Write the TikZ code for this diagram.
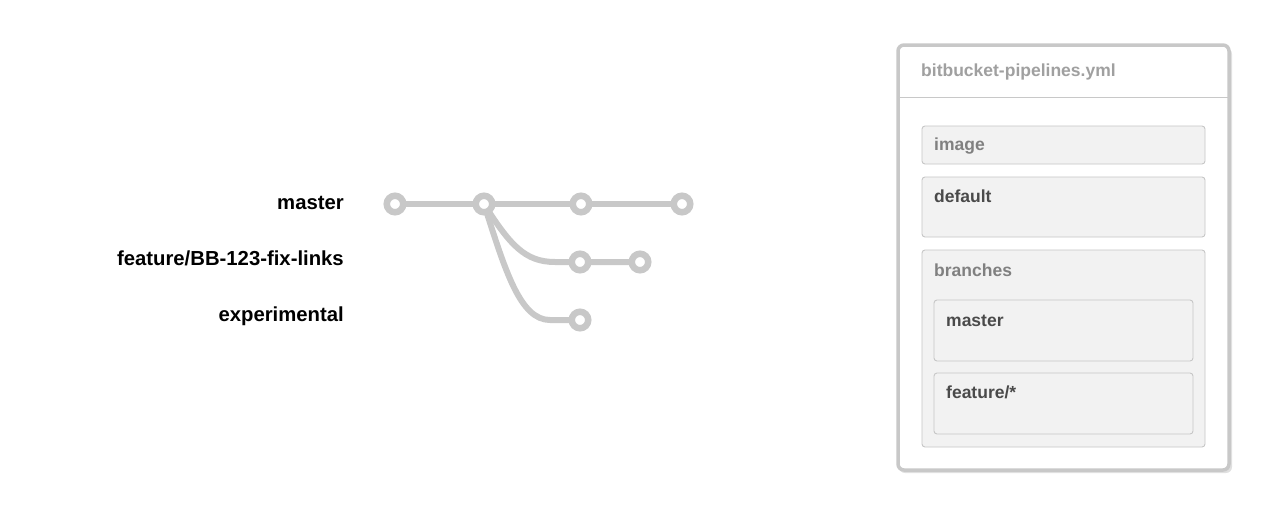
\documentclass[tikz,border=0pt]{standalone}
\usepackage{fontspec}
\setmainfont{Liberation Sans}
\definecolor{gline}{HTML}{C8C8C8}
\definecolor{boxfill}{HTML}{F2F2F2}
\definecolor{boxline}{HTML}{C6C6C6}
\definecolor{ttl}{HTML}{A0A0A0}
\definecolor{lbl}{HTML}{808080}
\definecolor{dark}{HTML}{4A4A4A}
\begin{document}
\begin{tikzpicture}[x=1pt,y=-1pt,
  commit/.style={circle,draw=gline,line width=6.5pt,fill=white,minimum size=16.5pt,inner sep=0pt},
  branch/.style={draw=gline,line width=6pt},
  brlabel/.style={anchor=east,font=\fontsize{20.3}{24}\selectfont\bfseries,text=black,inner sep=0pt},
  inbox/.style={draw=boxline,fill=boxfill,line width=0.9pt,rounded corners=3pt},
  boxtxt/.style={anchor=west,inner sep=0pt,font=\fontsize{17.5}{21}\selectfont\bfseries}]
\useasboundingbox (0,0) rectangle (1280,523);
% labels
\node[brlabel] (lmaster) at (344,203) {master};
\node[brlabel] (lfeat) at (344,258) {feature/BB-123-fix-links};
\node[brlabel] (lexp) at (344,316) {experimental};
% commit coordinates
\coordinate (m1) at (395,204);
\coordinate (m2) at (484,204);
\coordinate (m3) at (581,204);
\coordinate (m4) at (682,204);
\coordinate (f1) at (580,262);
\coordinate (f2) at (640,262);
\coordinate (e1) at (580,320);
% branches
\draw[branch] (m1) -- (m4);
\draw[branch] (m2) .. controls (510,245) and (525,262) .. (555,262) -- (f2);
\draw[branch] (m2) .. controls (505,270) and (520,320) .. (550,320) -- (e1);
% commits
\foreach \c in {m1,m2,m3,m4,f1,f2,e1}{
  \node[commit] (n\c) at (\c) {};
}
% right panel
\fill[black!12,rounded corners=6pt] (899,48) rectangle (1232,473);
\node[draw=gline,fill=white,line width=3.5pt,rounded corners=6pt,minimum width=331pt,minimum height=425pt,inner sep=0pt] (panel) at (1063.5,257.5) {};
\draw[gline,line width=1pt] (899,97) -- (1228,97);
\node[boxtxt,text=ttl] (title) at (921,72) {bitbucket-pipelines.yml};
\draw[inbox] (922,126) rectangle (1205,164);
\node[boxtxt,text=lbl] (img) at (934,146) {image};
\draw[inbox] (922,177) rectangle (1205,237);
\node[boxtxt,text=dark] (def) at (934,196) {default};
\draw[inbox] (922,250) rectangle (1205,447);
\node[boxtxt,text=lbl] (br) at (934,270) {branches};
\draw[inbox] (934,300) rectangle (1193,361);
\node[boxtxt,text=dark] (bm) at (946,321) {master};
\draw[inbox] (934,373) rectangle (1193,434);
\node[boxtxt,text=dark] (bf) at (946,392) {feature/*};
\end{tikzpicture}
\end{document}
